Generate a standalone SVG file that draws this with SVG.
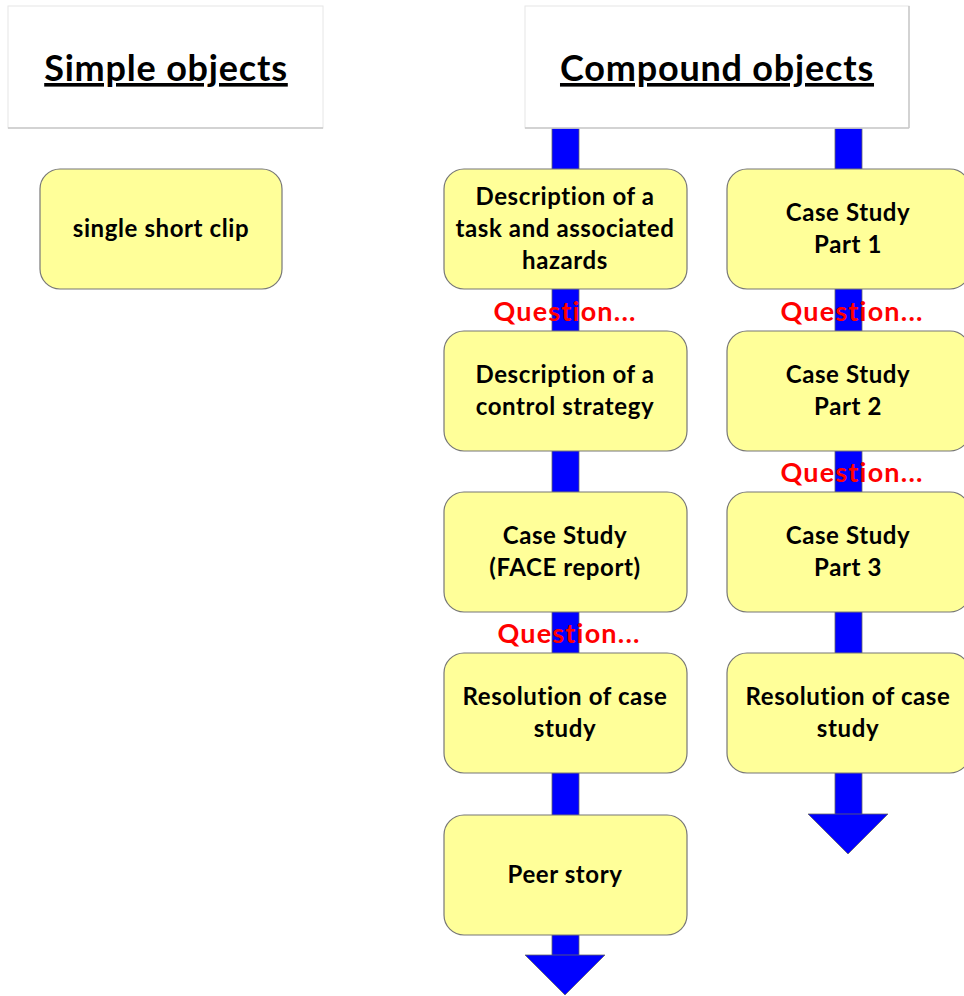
<svg xmlns="http://www.w3.org/2000/svg" width="964" height="996" viewBox="0 0 964 996">
<style>
.hdr{fill:#fff;stroke:#e6e6e6;stroke-width:1}
.hdrs{fill:none;stroke:#c8c8c8;stroke-width:1.5}
.title{font-family:Lato,"Open Sans",sans-serif;font-weight:bold;font-size:36px;letter-spacing:0.8px;fill:#000;text-anchor:middle;text-decoration:underline}
.node{fill:#ffff99;stroke:#777;stroke-width:1.2}
.lbl{font-family:Lato,"Open Sans",sans-serif;font-weight:bold;font-size:24px;letter-spacing:0.6px;fill:#000;text-anchor:middle}
.q{font-family:Lato,"Open Sans",sans-serif;font-weight:bold;font-size:27px;letter-spacing:1.2px;fill:#ff0000;text-anchor:middle}
.bar{fill:#0000ff;stroke:#666;stroke-width:0.8}
</style>
<rect width="964" height="996" fill="#fff"/>
<g id="hdr-simple">
<rect class="hdr" x="8" y="6" width="315" height="122"/>
<line class="hdrs" x1="8" y1="128" x2="323" y2="128"/>
<text class="title" x="166" y="81">Simple objects</text>
</g>
<g id="connectors">
<rect class="bar" x="552" y="128" width="27" height="828"/>
<polygon class="bar" points="525,955 605,955 565,995"/>
<rect class="bar" x="835" y="128" width="27" height="687"/>
<polygon class="bar" points="808,814 888,814 848,854"/>
</g>
<g id="hdr-compound">
<rect class="hdr" x="525" y="6" width="384" height="122"/>
<line class="hdrs" x1="525" y1="128" x2="909" y2="128"/>
<line class="hdrs" x1="909" y1="6" x2="909" y2="128"/>
<text class="title" x="717" y="81">Compound objects</text>
</g>
<g id="n-simple">
<rect class="node" x="40" y="169" width="242" height="120" rx="20"/>
<text class="lbl" x="161" y="237">single short clip</text>
</g>
<g id="n-l1">
<rect class="node" x="444" y="169" width="243" height="120" rx="20"/>
<text class="lbl" x="565" y="205">Description of a</text>
<text class="lbl" x="565" y="237">task and associated</text>
<text class="lbl" x="565" y="269">hazards</text>
</g>
<g id="n-l2">
<rect class="node" x="444" y="331" width="243" height="120" rx="20"/>
<text class="lbl" x="565" y="383">Description of a</text>
<text class="lbl" x="565" y="415">control strategy</text>
</g>
<g id="n-l3">
<rect class="node" x="444" y="492" width="243" height="120" rx="20"/>
<text class="lbl" x="565" y="544">Case Study</text>
<text class="lbl" x="565" y="576">(FACE report)</text>
</g>
<g id="n-l4">
<rect class="node" x="444" y="653" width="243" height="120" rx="20"/>
<text class="lbl" x="565" y="705">Resolution of case</text>
<text class="lbl" x="565" y="737">study</text>
</g>
<g id="n-l5">
<rect class="node" x="444" y="815" width="243" height="120" rx="20"/>
<text class="lbl" x="565" y="883">Peer story</text>
</g>
<g id="n-r1">
<rect class="node" x="727" y="169" width="243" height="120" rx="20"/>
<text class="lbl" x="848" y="221">Case Study</text>
<text class="lbl" x="848" y="253">Part 1</text>
</g>
<g id="n-r2">
<rect class="node" x="727" y="331" width="243" height="120" rx="20"/>
<text class="lbl" x="848" y="383">Case Study</text>
<text class="lbl" x="848" y="415">Part 2</text>
</g>
<g id="n-r3">
<rect class="node" x="727" y="492" width="243" height="120" rx="20"/>
<text class="lbl" x="848" y="544">Case Study</text>
<text class="lbl" x="848" y="576">Part 3</text>
</g>
<g id="n-r4">
<rect class="node" x="727" y="653" width="243" height="120" rx="20"/>
<text class="lbl" x="848" y="705">Resolution of case</text>
<text class="lbl" x="848" y="737">study</text>
</g>
<g id="questions">
<text class="q" x="565" y="321">Question...</text>
<text class="q" x="569" y="643">Question...</text>
<text class="q" x="852" y="321">Question...</text>
<text class="q" x="852" y="482">Question...</text>
</g>
</svg>
